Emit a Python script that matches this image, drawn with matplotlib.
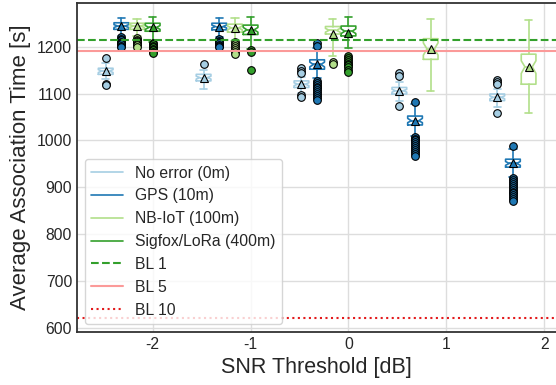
import matplotlib
matplotlib.use("Agg")
import matplotlib.pyplot as plt
import seaborn as sns
from matplotlib.lines import Line2D

# SNR thresholds on the x axis
snr = [-2, -1, 0, 1, 2]

# Box statistics per SNR threshold: [whislo, q1, cilo, med, cihi, q3, whishi, mean]
noerr_box = [
    [1130, 1141, 1145, 1148, 1151, 1154, 1166, 1148],
    [1110, 1127, 1131, 1134, 1137, 1141, 1150, 1134],
    [1102, 1113, 1117, 1120, 1123, 1127, 1135, 1120],
    [1085, 1099, 1103, 1106, 1109, 1113, 1125, 1106],
    [1072, 1085, 1089, 1092, 1095, 1099, 1110, 1092],
]
noerr_fliers = [
    [1176, 1120, 1118],
    [1162],
    [1154, 1149, 1143, 1097, 1092],
    [1143, 1137, 1073],
    [1129, 1124, 1120, 1059],
]

gps_box = [
    [1222, 1237, 1241, 1244, 1247, 1251, 1262, 1244],
    [1220, 1236, 1240, 1243, 1246, 1250, 1262, 1243],
    [1134, 1152, 1157, 1162, 1167, 1172, 1197, 1162],
    [1010, 1033, 1038, 1042, 1047, 1052, 1078, 1042],
    [922, 943, 947, 951, 955, 960, 982, 951],
]
gps_fliers = [
    [1220, 1217, 1214, 1211, 1208, 1205, 1202, 1199],
    [1216, 1213, 1210, 1207, 1204, 1201, 1199],
    [1207, 1201, 1127, 1123, 1119, 1115, 1111, 1107, 1103, 1099, 1095, 1091, 1086],
    [1083, 1008, 1004, 1000, 996, 992, 988, 984, 980, 975, 971, 967],
    [988, 919, 915, 911, 907, 903, 899, 895, 891, 887, 883, 879, 875, 871],
]

nbiot_box = [
    [1222, 1237, 1241, 1244, 1247, 1250, 1260, 1244],
    [1212, 1231, 1236, 1240, 1244, 1248, 1261, 1240],
    [1180, 1227, 1231, 1235, 1239, 1243, 1260, 1228],
    [1106, 1173, 1182, 1195, 1208, 1217, 1259, 1194],
    [1059, 1120, 1143, 1157, 1170, 1184, 1257, 1157],
]
nbiot_fliers = [
    [1218, 1215, 1212, 1209, 1206, 1203, 1200],
    [1209, 1205, 1201, 1197, 1193, 1189, 1184],
    [1168, 1164],
    [],
    [],
]

# Sigfox/LoRa only reported for the first three thresholds
sigfox_box = [
    [1210, 1233, 1237, 1241, 1245, 1250, 1263, 1241],
    [1196, 1226, 1231, 1236, 1241, 1246, 1263, 1236],
    [1197, 1223, 1228, 1233, 1238, 1244, 1263, 1230],
]
sigfox_fliers = [
    [1208, 1205, 1202, 1199, 1196, 1193, 1189, 1186],
    [1192, 1189, 1150],
    [1180, 1176, 1172, 1168, 1164, 1160, 1156, 1151, 1147],
]

# Baselines
bl1 = 1215
bl5 = 1190
bl10 = 622

series_labels = ["No error (0m)", "GPS (10m)", "NB-IoT (100m)", "Sigfox/LoRa (400m)"]
colors = ["#a6cee3", "#1f78b4", "#b2df8a", "#33a02c"]
offsets = [-0.48, -0.32, -0.16, 0.0]


def make_stats(box_rows, flier_rows):
    stats = []
    for row, fl in zip(box_rows, flier_rows):
        whislo, q1, cilo, med, cihi, q3, whishi, mean = row
        stats.append(dict(whislo=whislo, q1=q1, cilo=cilo, med=med, cihi=cihi,
                          q3=q3, whishi=whishi, mean=mean, fliers=fl))
    return stats


sns.set_style("whitegrid")
plt.rcParams['font.family'] = ['Liberation Sans', 'DejaVu Sans']
plt.rcParams['axes.unicode_minus'] = False

fig = plt.figure(figsize=(5.56, 3.85), dpi=100)
ax = fig.add_axes([0.1385, 0.1384, 0.8615, 0.8536])

all_boxes = [noerr_box, gps_box, nbiot_box, sigfox_box]
all_fliers = [noerr_fliers, gps_fliers, nbiot_fliers, sigfox_fliers]

for box_rows, flier_rows, col, off in zip(all_boxes, all_fliers, colors, offsets):
    stats = make_stats(box_rows, flier_rows)
    pos = [s + off for s in snr[:len(stats)]]
    line = dict(color=col, linewidth=1.2)
    ax.bxp(stats, positions=pos, widths=0.15, shownotches=True, showmeans=True,
           manage_ticks=False,
           boxprops=line, whiskerprops=line, capprops=line, medianprops=line,
           flierprops=dict(marker='o', markerfacecolor=col, markeredgecolor='black',
                           markersize=5.5, markeredgewidth=0.8),
           meanprops=dict(marker='^', markerfacecolor=col, markeredgecolor='black',
                          markersize=6, markeredgewidth=0.8))

ax.axhline(bl1, color="#33a02c", linestyle="--", linewidth=1.5)
ax.axhline(bl5, color="#fb9a99", linestyle="-", linewidth=1.5)
ax.axhline(bl10, color="#e31a1c", linestyle=":", linewidth=1.5)

ax.set_xlim(-2.773, 2.12)
ax.set_ylim(592, 1293)
ax.set_xticks(snr)
ax.set_yticks([600, 700, 800, 900, 1000, 1100, 1200])
ax.tick_params(labelsize=11.3, colors="#262626", length=0)
ax.set_xlabel("SNR Threshold [dB]", fontsize=15.5, color="#262626")
ax.set_ylabel("Average Association Time [s]", fontsize=16, color="#262626")
ax.grid(True, color="#dddddd", linewidth=1.0)
ax.set_axisbelow(True)
for side in ["left", "bottom", "top"]:
    ax.spines[side].set_color("#333333")
    ax.spines[side].set_linewidth(1.3)
ax.spines["right"].set_visible(False)

handles = [Line2D([0], [0], color=c, linewidth=1.2) for c in colors]
handles += [Line2D([0], [0], color="#33a02c", linestyle="--", linewidth=1.5),
            Line2D([0], [0], color="#fb9a99", linestyle="-", linewidth=1.5),
            Line2D([0], [0], color="#e31a1c", linestyle=":", linewidth=1.5)]
labels = series_labels + ["BL 1", "BL 5", "BL 10"]
ax.legend(handles, labels, loc="lower left", fontsize=11.3, frameon=True)

fig.savefig("out.png", dpi=100)
